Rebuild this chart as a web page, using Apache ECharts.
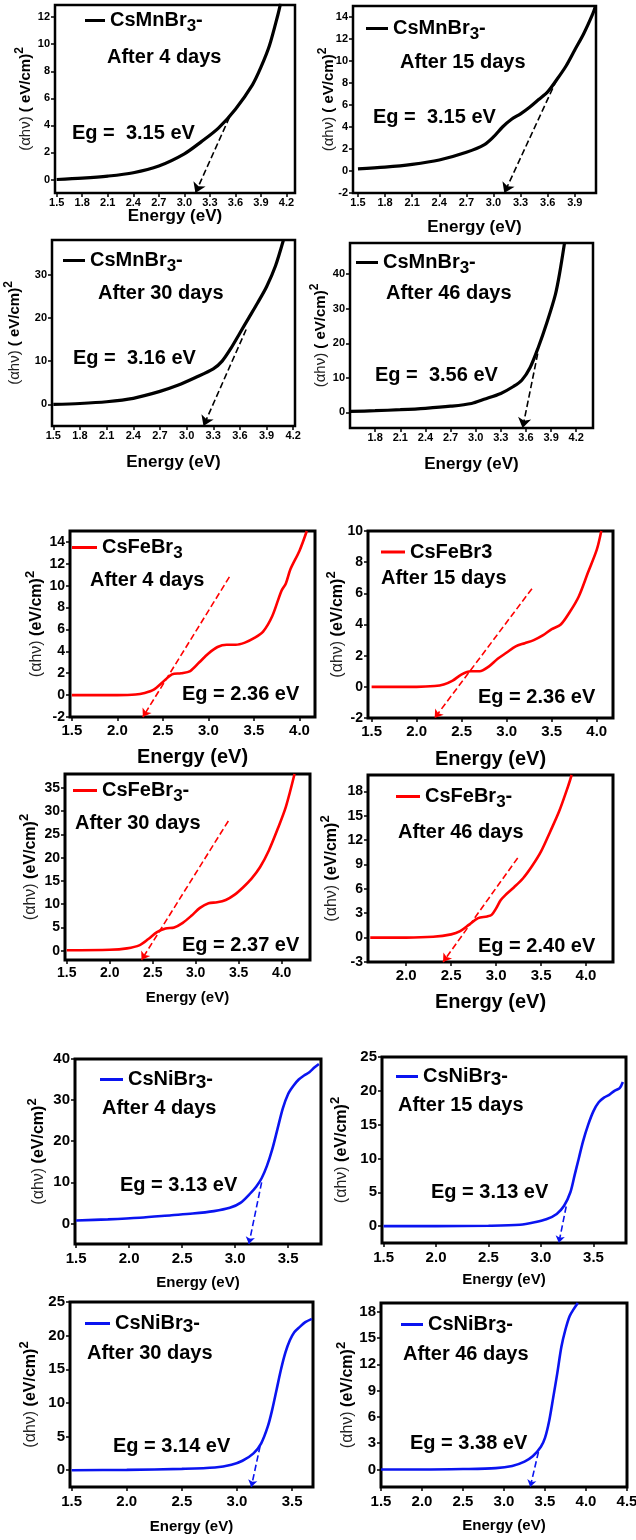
<!DOCTYPE html>
<html>
<head>
<meta charset="utf-8">
<script src="https://cdn.jsdelivr.net/npm/echarts@6.0.0/dist/echarts.min.js"></script>
<style>
  html, body { margin: 0; padding: 0; background: #fff; }
  #chart { width: 636px; height: 1540px; }
</style>
</head>
<body>
<div id="chart"></div>
<script>
const FONT = '"Liberation Sans", Arial, Helvetica, sans-serif';

// ---- absorption curves [energy eV, (αhν)^2] ----
const mn4 = [[1.5,0],[1.8,0.1],[2.1,0.25],[2.4,0.5],[2.7,1.0],[3.0,1.9],[3.2,2.8],[3.4,3.8],[3.6,5.2],[3.8,7.0],[3.9,8.3],[4.0,9.9],[4.1,12.2],[4.13,13]];
const mn15 = [[1.5,0.2],[1.8,0.35],[2.1,0.6],[2.4,1.0],[2.7,1.7],[2.9,2.4],[3.0,3.1],[3.1,4.0],[3.2,4.7],[3.3,5.2],[3.4,5.8],[3.5,6.5],[3.6,7.2],[3.7,8.3],[3.8,9.5],[3.9,11.0],[4.0,12.5],[4.1,14.3],[4.13,15]];
const mn30 = [[1.5,0],[1.8,0.2],[2.1,0.6],[2.4,1.4],[2.7,3.0],[2.9,4.4],[3.1,6.2],[3.3,8.2],[3.4,10],[3.5,13],[3.6,16.5],[3.7,20],[3.8,23.5],[3.9,27.2],[4.0,32],[4.09,38]];
const mn46 = [[1.5,0.3],[1.8,0.5],[2.1,0.8],[2.4,1.2],[2.7,1.8],[2.95,2.6],[3.1,3.8],[3.3,5.5],[3.45,7.5],[3.55,9.3],[3.65,13],[3.75,19],[3.85,26],[3.95,34],[4.0,40],[4.06,49]];
const fe4 = [[1.5,0],[2.0,0],[2.2,0.05],[2.3,0.2],[2.4,0.5],[2.5,1.2],[2.6,1.9],[2.7,2.0],[2.8,2.2],[2.9,3.0],[3.0,3.8],[3.1,4.4],[3.2,4.6],[3.3,4.6],[3.4,4.8],[3.5,5.2],[3.6,5.8],[3.7,7.2],[3.8,9.5],[3.85,10.2],[3.9,11.5],[4.0,13.2],[4.08,15]];
const fe15 = [[1.5,0],[2.0,0],[2.2,0.05],[2.3,0.15],[2.4,0.4],[2.5,0.8],[2.6,1.0],[2.7,1.0],[2.8,1.3],[2.9,1.8],[3.0,2.2],[3.1,2.6],[3.2,2.8],[3.3,3.0],[3.4,3.3],[3.5,3.7],[3.6,4.0],[3.7,4.8],[3.8,5.8],[3.9,7.3],[4.0,8.8],[4.05,10]];
const fe30 = [[1.5,0.1],[2.0,0.2],[2.2,0.5],[2.35,1.2],[2.45,2.5],[2.55,4.0],[2.65,4.8],[2.75,5.0],[2.85,6.0],[2.95,7.5],[3.05,9.2],[3.15,10.2],[3.25,10.4],[3.35,10.9],[3.45,12],[3.55,13.6],[3.65,15.5],[3.75,18],[3.85,21.5],[3.95,26],[4.05,31],[4.15,38]];
const fe46 = [[1.6,0],[2.0,0],[2.3,0.1],[2.5,0.4],[2.6,0.8],[2.7,1.6],[2.8,2.4],[2.9,2.6],[2.95,2.8],[3.0,3.6],[3.05,4.6],[3.1,5.2],[3.2,6.2],[3.3,7.3],[3.4,8.8],[3.5,10.6],[3.6,13.0],[3.7,15.5],[3.8,18.6],[3.84,20]];
const ni4 = [[1.5,0.7],[1.8,1.0],[2.1,1.4],[2.4,2.0],[2.6,2.4],[2.8,3.0],[2.95,3.8],[3.05,5.0],[3.15,7.5],[3.2,9.0],[3.25,11],[3.3,14],[3.35,18],[3.4,23],[3.45,28],[3.5,31.5],[3.55,33.5],[3.6,35],[3.65,36],[3.7,36.8],[3.75,38],[3.79,38.8]];
const ni15 = [[1.5,0],[2.0,0],[2.5,0.05],[2.8,0.2],[2.95,0.6],[3.05,1.0],[3.15,1.8],[3.22,3.0],[3.28,5.0],[3.32,7.5],[3.36,10],[3.4,12.5],[3.45,15],[3.5,17],[3.55,18.3],[3.6,19],[3.65,19.4],[3.7,20],[3.75,20.4],[3.78,21.3]];
const ni30 = [[1.5,0],[2.0,0.05],[2.5,0.2],[2.8,0.4],[2.95,0.8],[3.05,1.4],[3.15,2.5],[3.22,4.0],[3.28,6.5],[3.32,9.0],[3.36,12],[3.4,15],[3.44,17.5],[3.48,19.3],[3.52,20.5],[3.57,21.3],[3.62,22],[3.68,22.5]];
const ni46 = [[1.5,0],[2.0,0],[2.5,0.05],[2.9,0.15],[3.1,0.4],[3.25,0.9],[3.35,1.5],[3.45,2.6],[3.5,3.6],[3.55,5.5],[3.6,8.2],[3.65,11],[3.7,14],[3.75,16],[3.8,17.5],[3.85,18.3],[3.9,19]];

// ---- tangent (Tauc) extrapolations: [start, arrow tip] ----
const tangents = [
  [[3.53,4.6],[3.13,-1]], [[3.70,8.3],[3.12,-2]], [[3.67,17.3],[3.19,-5]], [[3.74,17],[3.56,-4.5]],
  [[3.23,10.8],[2.28,-2]], [[3.28,6.3],[2.2,-2]], [[3.38,27.9],[2.37,-2]], [[3.24,9.8],[2.41,-3]],
  [[3.25,10],[3.13,-5]], [[3.24,2.9],[3.17,-2.5]], [[3.21,3.6],[3.13,-2.5]], [[3.42,2.0],[3.32,-2]]
];

// ---- tick values ----
const mnX1 = [1.5,1.8,2.1,2.4,2.7,3.0,3.3,3.6,3.9,4.2];
const mnX2 = [1.5,1.8,2.1,2.4,2.7,3.0,3.3,3.6,3.9];
const mnX4 = [1.8,2.1,2.4,2.7,3.0,3.3,3.6,3.9,4.2];
const feX = [1.5,2.0,2.5,3.0,3.5,4.0];
const feX8 = [2.0,2.5,3.0,3.5,4.0];
const niX = [1.5,2.0,2.5,3.0,3.5];
const niX12 = [1.5,2.0,2.5,3.0,3.5,4.0,4.5];
const mnY1 = [0,2,4,6,8,10,12];
const mnY2 = [-2,0,2,4,6,8,10,12,14];
const mnY3 = [0,10,20,30];
const mnY4 = [0,10,20,30,40];
const feY5 = [-2,0,2,4,6,8,10,12,14];
const feY6 = [-2,0,2,4,6,8,10];
const feY7 = [0,5,10,15,20,25,30,35];
const feY8 = [-3,0,3,6,9,12,15,18];
const niY9 = [0,10,20,30,40];
const niY10 = [0,5,10,15,20,25];
const niY12 = [0,3,6,9,12,15,18];

// ---- texts ----
const seriesNames = ['mn4','mn15','mn30','mn46','fe4','fe15','fe30','fe46','ni4','ni15','ni30','ni46'];
const legendLabels = [
  '{a|CsMnBr}{b|3}{a|-}','{a|CsMnBr}{b|3}{a|-}','{a|CsMnBr}{b|3}{a|-}','{a|CsMnBr}{b|3}{a|-}',
  '{a|CsFeBr}{b|3}','{a|CsFeBr3}','{a|CsFeBr}{b|3}{a|-}','{a|CsFeBr}{b|3}{a|-}',
  '{a|CsNiBr}{c|3}{a|-}','{a|CsNiBr}{c|3}{a|-}','{a|CsNiBr}{c|3}{a|-}','{a|CsNiBr}{c|3}{a|-}'
];
const afterLabels = ['After 4 days','After 15 days','After 30 days','After 46 days',
  'After 4 days','After 15 days','After 30 days','After 46 days',
  'After 4 days','After 15 days','After 30 days','After 46 days'];
const egLabels = ['Eg =  3.15 eV','Eg =  3.15 eV','Eg =  3.16 eV','Eg =  3.56 eV',
  'Eg = 2.36 eV','Eg = 2.36 eV','Eg = 2.37 eV','Eg = 2.40 eV',
  'Eg = 3.13 eV','Eg = 3.13 eV','Eg = 3.14 eV','Eg = 3.38 eV'];
const yTitleMn = '{a|(αhν)}{b| ( eV/cm)}{s|2}';
const yTitle = '{a|(αhν)}{b| (eV/cm)}{s|2}';

const curves = [mn4, mn15, mn30, mn46, fe4, fe15, fe30, fe46, ni4, ni15, ni30, ni46];
const xTicks = [mnX1, mnX2, mnX1, mnX4, feX, feX, feX, feX8, niX, niX, niX, niX12];
const yTicks = [mnY1, mnY2, mnY3, mnY4, feY5, feY6, feY7, feY8, niY9, niY10, niY10, niY12];
const colors = ['#000','#000','#000','#000','#ff0000','#ff0000','#ff0000','#ff0000','#0a14f0','#0a14f0','#0a14f0','#0a14f0'];

// ---- layout of the 12 panels ----
const mnL = { xl: 11, xt: 17, xm: 4, yl: 11, yf: 15, bw: 2.5, lw: 3.2, arrow: 10 };
const feL = { xl: 15, xt: 20, xm: 6, yl: 14, yf: 16, bw: 3, lw: 2.6, arrow: 8 };
const niL = { xl: 15, xt: 15, xm: 7, yl: 15, yf: 16, bw: 3, lw: 2.6, arrow: 7 };
const layout = [
  { ...mnL, box: [55, 5, 240, 188], xr: [1.48, 4.30], yr: [-1, 12.9], xGap: 15, yGap: 17, leg: [85, 25], legW: 20, after: [107, 57], eg: [72, 133] },
  { ...mnL, box: [353, 6, 243, 187], xr: [1.445, 4.135], yr: [-2, 15], xGap: 26, yGap: 12, leg: [366, 33], legW: 22, after: [400, 62], eg: [373, 117] },
  { ...mnL, box: [52, 240, 243, 186], xr: [1.485, 4.22], yr: [-5, 38], xGap: 28, yGap: 25, leg: [63, 265], legW: 22, after: [98, 293], eg: [73, 358] },
  { ...mnL, box: [350, 243, 243, 185], xr: [1.5, 4.4], yr: [-4.5, 49], xGap: 28, yGap: 17, leg: [356, 267], legW: 22, after: [386, 293], eg: [375, 375] },
  { ...feL, box: [70, 531, 245, 186], xr: [1.48, 4.17], yr: [-2, 15], xGap: 30, yGap: 21, leg: [72, 552], legW: 25, after: [90, 580], eg: [182, 694] },
  { ...feL, box: [368, 531, 245, 187], xr: [1.46, 4.18], yr: [-2, 10], xGap: 31, yGap: 18, leg: [381, 552], legW: 24, after: [381, 578], eg: [478, 697] },
  { ...feL, xl: 14, xt: 15, box: [65, 774, 245, 186], xr: [1.48, 4.33], yr: [-2, 38], xGap: 30, yGap: 22, leg: [73, 795], legW: 24, after: [75, 823], eg: [182, 945] },
  { ...feL, box: [368, 775, 245, 187], xr: [1.575, 4.3], yr: [-3, 20], xGap: 30, yGap: 24, leg: [396, 801], legW: 24, after: [398, 832], eg: [478, 946] },
  { ...niL, box: [75, 1059, 246, 185], xr: [1.49, 3.81], yr: [-5, 40], xGap: 31, yGap: 24, leg: [100, 1082], legW: 23, after: [102, 1108], eg: [120, 1185] },
  { ...niL, box: [382, 1057, 244, 186], xr: [1.485, 3.81], yr: [-2.5, 25], xGap: 29, yGap: 28, leg: [396, 1079], legW: 22, after: [398, 1105], eg: [431, 1192] },
  { ...niL, box: [70, 1302, 243, 185], xr: [1.485, 3.69], yr: [-2.5, 25], xGap: 32, yGap: 27, leg: [85, 1326], legW: 25, after: [87, 1353], eg: [113, 1446] },
  { ...niL, box: [381, 1303, 246, 184], xr: [1.5, 4.5], yr: [-2, 19], xGap: 31, yGap: 21, leg: [401, 1327], legW: 22, after: [403, 1354], eg: [410, 1443] }
];

const legendRich = {
  a: { fontSize: 20, fontWeight: 'bold', color: '#000', fontFamily: FONT },
  b: { fontSize: 17, fontWeight: 'bold', color: '#000', fontFamily: FONT, padding: [12, 0, 0, 0] },
  c: { fontSize: 19, fontWeight: 'bold', color: '#000', fontFamily: FONT, padding: [6, 0, 0, 0] }
};
function legendHeight(txt) {
  if (txt.indexOf('{b|') >= 0) return 29;
  if (txt.indexOf('{c|') >= 0) return 25;
  return 20;
}

const option = { animation: false, grid: [], xAxis: [], yAxis: [], series: [], legend: [], graphic: [] };

layout.forEach(function (L, i) {
  const col = colors[i];
  option.grid.push({
    left: L.box[0], top: L.box[1], width: L.box[2], height: L.box[3],
    show: true, borderColor: '#000', borderWidth: L.bw, containLabel: false, outerBoundsMode: 'none'
  });
  option.xAxis.push({
    type: 'value', gridIndex: i, min: L.xr[0], max: L.xr[1],
    name: 'Energy (eV)', nameLocation: 'middle', nameGap: L.xGap, nameMoveOverlap: false,
    nameTextStyle: { fontSize: L.xt, fontWeight: 'bold', color: '#000', fontFamily: FONT },
    axisLine: { show: false, onZero: false },
    splitLine: { show: false },
    axisTick: { show: true, length: 4, lineStyle: { color: '#000', width: 1.5 }, customValues: xTicks[i] },
    axisLabel: { customValues: xTicks[i], formatter: function (v) { return v.toFixed(1); },
      fontSize: L.xl, fontWeight: 'bold', color: '#000', fontFamily: FONT, margin: L.xm }
  });
  option.yAxis.push({
    type: 'value', gridIndex: i, min: L.yr[0], max: L.yr[1],
    name: i < 4 ? yTitleMn : yTitle, nameLocation: 'middle', nameGap: L.yGap, nameRotate: 90, nameMoveOverlap: false,
    nameTextStyle: {
      color: '#000', fontFamily: FONT,
      rich: {
        a: { fontSize: L.yf, fontWeight: 'normal', color: '#222', fontFamily: FONT },
        b: { fontSize: L.yf, fontWeight: 'bold', color: '#000', fontFamily: FONT },
        s: { fontSize: L.yf - 3, fontWeight: 'bold', color: '#000', fontFamily: FONT, padding: [0, 0, 12, 0] }
      }
    },
    axisLine: { show: false, onZero: false },
    splitLine: { show: false },
    axisTick: { show: true, length: 4, lineStyle: { color: '#000', width: 1.5 }, customValues: yTicks[i] },
    axisLabel: { customValues: yTicks[i], formatter: function (v) { return String(v); },
      fontSize: L.yl, fontWeight: 'bold', color: '#000', fontFamily: FONT, margin: 5 }
  });
  option.series.push({
    type: 'line', name: seriesNames[i], xAxisIndex: i, yAxisIndex: i,
    data: curves[i], showSymbol: false, smooth: 0.3, clip: true,
    lineStyle: { color: col, width: L.lw }, itemStyle: { color: col },
    markLine: {
      silent: true, symbol: ['none', 'arrow'], symbolSize: L.arrow,
      label: { show: false }, animation: false,
      lineStyle: { color: col, type: 'dashed', width: 1.6 },
      data: [[{ coord: tangents[i][0] }, { coord: tangents[i][1] }]]
    }
  });
  option.legend.push({
    data: [{ name: seriesNames[i], icon: 'rect' }],
    left: L.leg[0], top: L.leg[1] - legendHeight(legendLabels[i]) / 2,
    padding: 0, itemWidth: L.legW, itemHeight: 3, selectedMode: false,
    formatter: function () { return legendLabels[i]; },
    textStyle: { color: '#000', fontWeight: 'bold', fontSize: 20, fontFamily: FONT, rich: legendRich }
  });
  option.graphic.push({
    type: 'text', x: L.after[0], y: L.after[1], silent: true,
    style: { text: afterLabels[i], font: 'bold 20px ' + FONT, fill: '#000', verticalAlign: 'middle', textVerticalAlign: 'middle' }
  });
  option.graphic.push({
    type: 'text', x: L.eg[0], y: L.eg[1], silent: true,
    style: { text: egLabels[i], font: 'bold 20px ' + FONT, fill: '#000', verticalAlign: 'middle', textVerticalAlign: 'middle' }
  });
});

const chart = echarts.init(document.getElementById('chart'), null, { renderer: 'canvas' });
chart.setOption(option);
</script>
</body>
</html>
